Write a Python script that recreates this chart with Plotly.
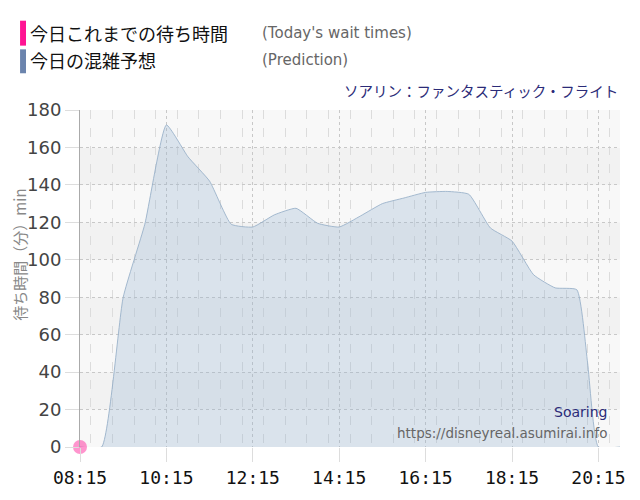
import plotly.graph_objects as go

# prediction curve, 30 min steps
times = ["08:15", "08:45", "09:15", "09:45", "10:15", "10:45", "11:15", "11:45",
         "12:15", "12:45", "13:15", "13:45", "14:15", "14:45", "15:15", "15:45",
         "16:15", "16:45", "17:15", "17:45", "18:15", "18:45", "19:15", "19:45",
         "20:00", "20:15", "20:45"]
predicted = [0, 0, 80, 119, 172, 155, 142, 119,
             117.5, 124, 127.5, 119.5, 117.5, 123.5, 130, 133,
             136, 136.5, 135, 117, 110, 92, 85, 84,
             45, 0, 0]

# actual wait times so far
actual_times = ["08:15"]
actual_waits = [0]

y_ticks = [0, 20, 40, 60, 80, 100, 120, 140, 160, 180]

day = "2024-05-01 "
x_pred = [day + t for t in times]
x_act = [day + t for t in actual_times]

fig = go.Figure()

fig.add_trace(go.Scatter(
    x=x_pred, y=predicted, mode="lines",
    line=dict(color="rgba(150,175,200,0.85)", width=1, shape="spline", smoothing=0.45),
    fill="tozeroy", fillcolor="rgba(150,180,210,0.3)",
    hoverinfo="skip", showlegend=False,
))

fig.add_trace(go.Scatter(
    x=x_act, y=actual_waits, mode="lines+markers",
    line=dict(color="#ff1493", width=2),
    marker=dict(size=14, color="rgba(255,20,147,0.45)"),
    cliponaxis=False, showlegend=False,
))

# alternating background bands
shapes = []
for i in range(len(y_ticks) - 1):
    shapes.append(dict(
        type="rect", xref="paper", yref="y", layer="below",
        x0=0, x1=1, y0=y_ticks[i], y1=y_ticks[i + 1], line_width=0,
        fillcolor="#f8f8f8" if i % 2 == 0 else "#f2f2f2",
    ))

# legend bars
shapes.append(dict(type="rect", xref="paper", yref="paper", x0=-0.111, x1=-0.1,
                   y0=1.191, y1=1.265, fillcolor="#ff1493", line_width=0))
shapes.append(dict(type="rect", xref="paper", yref="paper", x0=-0.111, x1=-0.1,
                   y0=1.109, y1=1.18, fillcolor="#6b84ad", line_width=0))

jp = "Noto Sans CJK JP"
annotations = [
    dict(text="今日これまでの待ち時間", x=-0.097, y=1.229, font=dict(family=jp, size=18, color="#111")),
    dict(text="今日の混雑予想", x=-0.097, y=1.147, font=dict(family=jp, size=18, color="#111")),
    dict(text="(Today's wait times)", x=0.333, y=1.229, font=dict(family="DejaVu Sans", size=15, color="#666")),
    dict(text="(Prediction)", x=0.333, y=1.147, font=dict(family="DejaVu Sans", size=15, color="#666")),
]
for a in annotations:
    a.update(xref="paper", yref="paper", xanchor="left", yanchor="middle", showarrow=False)

annotations += [
    dict(text="ソアリン：ファンタスティック・フライト", x=1, y=1.059, xref="paper", yref="paper",
         xanchor="right", yanchor="middle", showarrow=False,
         font=dict(family=jp, size=14.5, color="#2b2b78")),
    dict(text="Soaring", x=0.98, y=0.103, xref="paper", yref="paper",
         xanchor="right", yanchor="middle", showarrow=False,
         font=dict(family="DejaVu Sans", size=14, color="#2b2b78")),
    dict(text="https://disneyreal.asumirai.info", x=0.98, y=0.041, xref="paper", yref="paper",
         xanchor="right", yanchor="middle", showarrow=False,
         font=dict(family="DejaVu Sans", size=13.5, color="#666")),
    # y axis title
    dict(text="待ち時間（分）min", x=-0.111, y=0.571, xref="paper", yref="paper",
         xanchor="center", yanchor="middle", textangle=-90, showarrow=False,
         font=dict(family=jp, size=15, color="#888")),
]

# page body adds 8px margin, so the figure is 8px smaller and margins shifted
fig.update_layout(
    width=632, height=492,
    margin=dict(l=72, r=20, t=102, b=50),
    paper_bgcolor="white", plot_bgcolor="white",
    shapes=shapes, annotations=annotations,
    showlegend=False,
)

fig.update_xaxes(
    type="date",
    range=[day + "08:15", day + "20:45"],
    tick0=day + "08:15", dtick=2 * 3600 * 1000, tickformat="%H:%M",
    tickfont=dict(family="DejaVu Sans Mono", size=18, color="#111"),
    ticks="outside", ticklen=14, tickcolor="#ddd",
    showgrid=True, gridcolor="#c8c8c8", griddash="dot", gridwidth=1,
    minor=dict(dtick=30 * 60 * 1000, showgrid=True, gridcolor="#dcdcdc", griddash="dash"),
    zeroline=False, showline=False,
)

fig.update_yaxes(
    range=[0, 180], tickvals=y_ticks,
    tickfont=dict(family="DejaVu Sans", size=18, color="#444"),
    ticks="outside", ticklen=14, tickcolor="#ddd",
    showgrid=True, gridcolor="#c8c8c8", griddash="dot", gridwidth=1,
    zeroline=False, showline=True, linecolor="#aaa", linewidth=1,
)

fig.write_html("out.html")
